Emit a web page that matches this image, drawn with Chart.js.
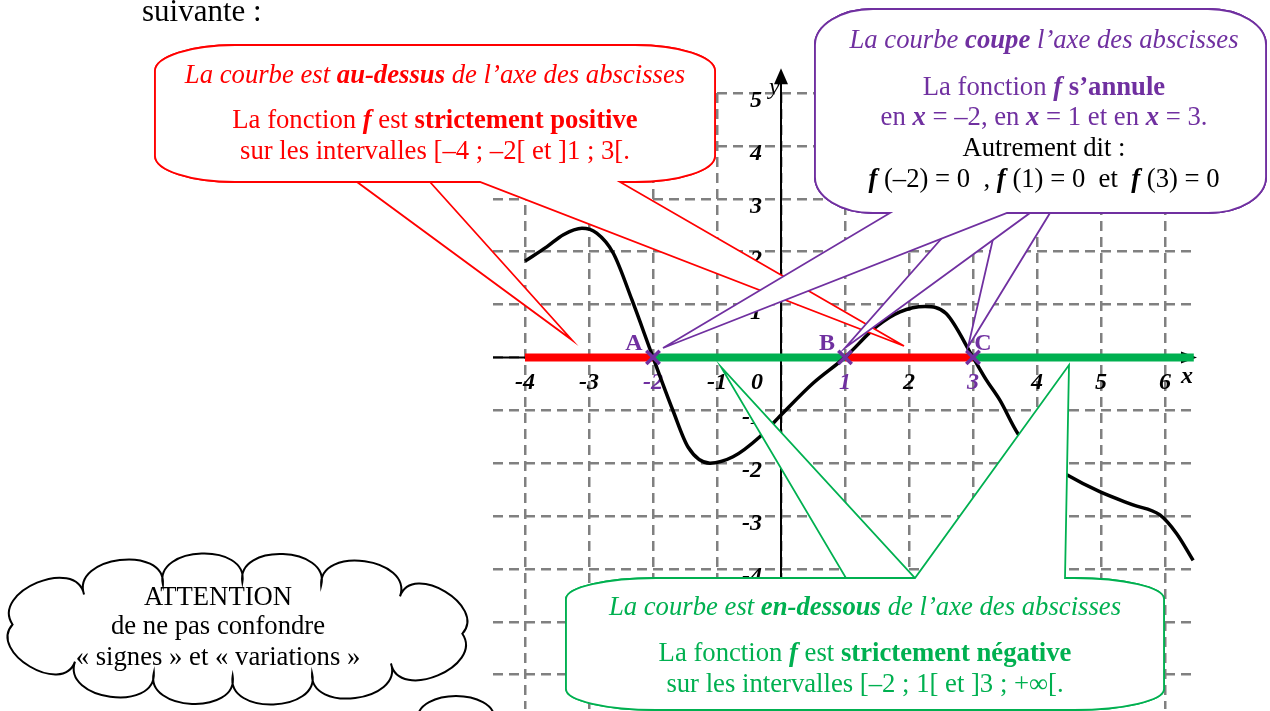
<!DOCTYPE html>
<html><head><meta charset="utf-8">
<script src="https://cdn.jsdelivr.net/npm/chart.js@4.4.0/dist/chart.umd.min.js"></script>
<style>html,body{margin:0;padding:0;background:#fff;overflow:hidden}canvas{display:block}</style>
</head><body>
<canvas id="c" width="1270" height="711"></canvas>
<script>
// ---------- data ----------
const curveX = [-4, -3.66, -3.4, -3.11, -2.88, -2.62, -2.33, -2, -1.69, -1.45, -1.11, -0.75, -0.33, 0, 0.5, 1, 1.49, 1.86, 2.25, 2.58, 3, 3.21, 3.42, 3.7, 4.0, 4.48, 4.98, 5.5, 5.92, 6.18, 6.44];
const curveY = [1.82, 2.09, 2.32, 2.44, 2.35, 1.97, 1.09, 0, -1.0, -1.7, -2.0, -1.88, -1.5, -1.09, -0.49, 0, 0.58, 0.86, 0.96, 0.83, 0, -0.43, -0.81, -1.44, -1.85, -2.23, -2.54, -2.79, -2.98, -3.33, -3.84];
const roots = [-2, 1, 3];
const rootNames = ['A', 'B', 'C'];
const positiveIntervals = [[-4, -2], [1, 3]];
const negativeIntervals = [[-2, 1], [3, 6.45]];
const xTicks = [-4, -3, -2, -1, 0, 1, 2, 3, 4, 5, 6];
const xTickLabels = ['-4', '-3', '-2', '-1', '0', '1', '2', '3', '4', '5', '6'];
const yTicks = [5, 4, 3, 2, 1, -1, -2, -3, -4, -5, -6];
const yTickLabels = ['5', '4', '3', '2', '1', '-1', '-2', '-3', '-4', '-5', '-6'];
const yGrid = [-6, -5, -4, -3, -2, -1, 0, 1, 2, 3, 4, 5];

// ---------- styles ----------
const RED = '#FF0000', GREEN = '#00B050', PURPLE = '#7030A0', GRID = '#808080';
const FF = "'Liberation Serif','Times New Roman',serif";
const F = {n: '26.7px ' + FF, i: 'italic 26.7px ' + FF, b: 'bold 26.7px ' + FF, bi: 'italic bold 26.7px ' + FF};

const redText = [
  [[['La courbe est ', 'i'], ['au-dessus', 'bi'], [' de l\u2019axe des abscisses', 'i']], 83],
  [[['La fonction ', 'n'], ['f', 'bi'], [' est ', 'n'], ['strictement positive', 'b']], 128],
  [[['sur les intervalles [\u20134 ; \u20132[ et ]1 ; 3[.', 'n']], 159]
];
const purpleText = [
  [[['La courbe ', 'i'], ['coupe', 'bi'], [' l\u2019axe des abscisses', 'i']], 48, PURPLE],
  [[['La fonction ', 'n'], ['f', 'bi'], [' s\u2019annule', 'b']], 95, PURPLE],
  [[['en ', 'n'], ['x', 'bi'], [' = \u20132, en ', 'n'], ['x', 'bi'], [' = 1 et en ', 'n'], ['x', 'bi'], [' = 3.', 'n']], 125, PURPLE],
  [[['Autrement dit :', 'n']], 156, '#000'],
  [[['f', 'bi'], [' (\u20132) = 0  , ', 'n'], ['f', 'bi'], [' (1) = 0  et  ', 'n'], ['f', 'bi'], [' (3) = 0', 'n']], 187, '#000']
];
const greenText = [
  [[['La courbe est ', 'i'], ['en-dessous', 'bi'], [' de l\u2019axe des abscisses', 'i']], 615],
  [[['La fonction ', 'n'], ['f', 'bi'], [' est ', 'n'], ['strictement n\u00e9gative', 'b']], 661],
  [[['sur les intervalles [\u20132 ; 1[ et ]3 ; +\u221e[.', 'n']], 692]
];
const cloudText = [['ATTENTION', 605], ['de ne pas confondre', 634], ['\u00ab signes \u00bb et \u00ab variations \u00bb', 665]];

function rich(ctx, segs, cx, base, color) {
  let w = 0;
  segs.forEach(s => { ctx.font = F[s[1]]; w += ctx.measureText(s[0]).width; });
  let xx = cx - w / 2;
  ctx.fillStyle = color; ctx.textAlign = 'left'; ctx.textBaseline = 'alphabetic';
  segs.forEach(s => { ctx.font = F[s[1]]; ctx.fillText(s[0], xx, base); xx += ctx.measureText(s[0]).width; });
}

function callout(ctx, bx, topW, botW, color) {
  const k = 0.5523, {x, y, w, h, rx, ry} = bx;
  ctx.beginPath();
  ctx.moveTo(x + rx, y);
  topW.forEach(t => { ctx.lineTo(t[0], y); ctx.lineTo(t[2], t[3]); ctx.lineTo(t[1], y); });
  ctx.lineTo(x + w - rx, y);
  ctx.bezierCurveTo(x + w - rx + k * rx, y, x + w, y + ry - k * ry, x + w, y + ry);
  ctx.lineTo(x + w, y + h - ry);
  ctx.bezierCurveTo(x + w, y + h - ry + k * ry, x + w - rx + k * rx, y + h, x + w - rx, y + h);
  botW.forEach(t => { ctx.lineTo(t[1], y + h); ctx.lineTo(t[2], t[3]); ctx.lineTo(t[0], y + h); });
  ctx.lineTo(x + rx, y + h);
  ctx.bezierCurveTo(x + rx - k * rx, y + h, x, y + h - ry + k * ry, x, y + h - ry);
  ctx.lineTo(x, y + ry);
  ctx.bezierCurveTo(x, y + ry - k * ry, x + rx - k * rx, y, x + rx, y);
  ctx.closePath();
  ctx.fillStyle = '#fff'; ctx.fill();
  ctx.strokeStyle = color; ctx.lineWidth = 1.8; ctx.lineJoin = 'miter'; ctx.miterLimit = 12; ctx.stroke();
}

function cloud(ctx, cx, cy, a, b, n, phase) {
  const N = 1440, pts = [], L = [0];
  for (let i = 0; i <= N; i++) {
    const t = phase + 2 * Math.PI * i / N;
    pts.push([cx + a * Math.cos(t), cy + b * Math.sin(t)]);
    if (i > 0) L.push(L[i - 1] + Math.hypot(pts[i][0] - pts[i - 1][0], pts[i][1] - pts[i - 1][1]));
  }
  const total = L[N], P = []; let j = 0;
  for (let k = 0; k < n; k++) { const tg = total * k / n; while (L[j + 1] < tg) j++; P.push(pts[j]); }
  ctx.beginPath(); ctx.moveTo(P[0][0], P[0][1]);
  for (let k = 0; k < n; k++) {
    const p = P[k], q = P[(k + 1) % n];
    const dx = q[0] - p[0], dy = q[1] - p[1], len = Math.hypot(dx, dy);
    const nx = dy / len, ny = -dx / len, hh = 0.5 * len;
    ctx.bezierCurveTo(p[0] + nx * hh - dx * 0.1, p[1] + ny * hh - dy * 0.1, q[0] + nx * hh + dx * 0.1, q[1] + ny * hh + dy * 0.1, q[0], q[1]);
  }
  ctx.closePath();
  ctx.fillStyle = '#fff'; ctx.fill();
  ctx.strokeStyle = '#000'; ctx.lineWidth = 2; ctx.stroke();
}

const deco = {
  id: 'deco',
  beforeDatasetsDraw(chart) {
    const {ctx, scales: {x, y}} = chart;
    const px0 = x.getPixelForValue(0), py0 = y.getPixelForValue(0);
    const xEnd = x.getPixelForValue(6.5), yTop = y.getPixelForValue(5.47);
    ctx.save();
    ctx.strokeStyle = '#000'; ctx.fillStyle = '#000'; ctx.lineWidth = 2;
    ctx.beginPath(); ctx.moveTo(x.left, py0); ctx.lineTo(xEnd - 4, py0); ctx.stroke();
    ctx.beginPath(); ctx.moveTo(px0, chart.height); ctx.lineTo(px0, yTop + 4); ctx.stroke();
    ctx.beginPath(); ctx.moveTo(xEnd, py0); ctx.lineTo(xEnd - 16, py0 - 6); ctx.lineTo(xEnd - 16, py0 + 6); ctx.closePath(); ctx.fill();
    ctx.beginPath(); ctx.moveTo(px0, yTop); ctx.lineTo(px0 - 7, yTop + 16); ctx.lineTo(px0 + 7, yTop + 16); ctx.closePath(); ctx.fill();
    // tick labels
    ctx.font = 'italic bold 24px ' + FF; ctx.textBaseline = 'alphabetic';
    ctx.textAlign = 'center';
    xTicks.forEach((v, i) => {
      const px = v === 0 ? px0 - 24 : x.getPixelForValue(v);
      ctx.fillStyle = roots.includes(v) ? PURPLE : '#000';
      ctx.fillText(xTickLabels[i], px, py0 + 32);
    });
    ctx.textAlign = 'right'; ctx.fillStyle = '#000';
    yTicks.forEach((v, i) => ctx.fillText(yTickLabels[i], px0 - 19, y.getPixelForValue(v) + 14));
    ctx.textAlign = 'left';
    ctx.fillText('x', xEnd - 16, py0 + 26);
    ctx.font = 'italic 24px ' + FF;
    ctx.fillText('y', px0 - 12, yTop + 26);
    ctx.restore();
  },
  afterDatasetsDraw(chart) {
    const {ctx, scales: {x, y}} = chart;
    const py0 = y.getPixelForValue(0);
    ctx.save();
    // red callout
    const redBox = {x: 155, y: 45, w: 560, h: 137, rx: 80, ry: 26};
    callout(ctx, redBox, [], [[357, 430, 572, 340]], RED);
    callout(ctx, redBox, [], [[480, 620, 904, 346]], RED);
    // purple callout
    const pBox = {x: 815, y: 9, w: 451, h: 204, rx: 58, ry: 36};
    callout(ctx, pBox, [], [[999, 1050, 968, 347]], PURPLE);
    callout(ctx, pBox, [], [[964, 1030, 845, 348]], PURPLE);
    callout(ctx, pBox, [], [[890, 1007, 663, 348]], PURPLE);
    // green callout
    const gBox = {x: 566, y: 578, w: 598, h: 132, rx: 90, ry: 21};
    callout(ctx, gBox, [[846, 915, 721, 367]], [], GREEN);
    callout(ctx, gBox, [[915, 1065, 1069, 365]], [], GREEN);
    // texts
    redText.forEach(l => rich(ctx, l[0], 435, l[1], RED));
    purpleText.forEach(l => rich(ctx, l[0], 1044, l[1], l[2]));
    greenText.forEach(l => rich(ctx, l[0], 865, l[1], GREEN));
    // cloud
    cloud(ctx, 237.5, 629, 226, 47, 12, 0.1);
    cloudText.forEach(l => rich(ctx, [[l[0], 'n']], 218, l[1], '#000'));
    ctx.beginPath(); ctx.ellipse(456, 717, 38, 21, 0, 0, 2 * Math.PI);
    ctx.fillStyle = '#fff'; ctx.fill(); ctx.strokeStyle = '#000'; ctx.lineWidth = 2; ctx.stroke();
    // root names
    ctx.font = 'bold 24px ' + FF; ctx.fillStyle = PURPLE; ctx.textAlign = 'center';
    const dxs = [-19, -18, 10];
    roots.forEach((r, i) => ctx.fillText(rootNames[i], x.getPixelForValue(r) + dxs[i], py0 - 7));
    // heading text
    ctx.font = '31px ' + FF; ctx.fillStyle = '#000'; ctx.textAlign = 'left';
    ctx.fillText('suivante :', 142, 21);
    ctx.restore();
  }
};

const barSets = [];
positiveIntervals.forEach(iv => barSets.push({data: iv.map(v => ({x: v, y: 0})), borderColor: RED, borderWidth: 8, pointRadius: 0, borderCapStyle: 'butt', order: 2}));
negativeIntervals.forEach(iv => barSets.push({data: iv.map(v => ({x: v, y: 0})), borderColor: GREEN, borderWidth: 8, pointRadius: 0, borderCapStyle: 'butt', order: 2}));

new Chart(document.getElementById('c'), {
  type: 'line',
  data: {
    datasets: [
      {label: 'racines', data: roots.map(r => ({x: r, y: 0})), showLine: false, pointStyle: 'crossRot', pointRadius: 9.5, pointBorderWidth: 3.5, borderColor: PURPLE, backgroundColor: PURPLE, order: 0},
      {label: 'f', data: curveX.map((v, i) => ({x: v, y: curveY[i]})), borderColor: '#000', borderWidth: 3.5, pointRadius: 0, cubicInterpolationMode: 'monotone', fill: false, order: 1, clip: false},
      ...barSets
    ]
  },
  options: {
    responsive: false, animation: false, events: [],
    layout: {autoPadding: false, padding: {left: 493, right: 73, top: 93, bottom: 2}},
    plugins: {legend: {display: false}, tooltip: {enabled: false}},
    scales: {
      x: {type: 'linear', min: -4.5, max: 6.5,
          afterBuildTicks: s => { s.ticks = xTicks.map(v => ({value: v})); },
          afterFit: s => { s.height = 0; },
          ticks: {display: false}, grid: {color: GRID, lineWidth: 2.5, drawTicks: false},
          border: {display: false, dash: [10, 6]}},
      y: {type: 'linear', min: -6.65, max: 5,
          afterBuildTicks: s => { s.ticks = yGrid.map(v => ({value: v})); },
          afterFit: s => { s.width = 0; },
          ticks: {display: false}, grid: {color: GRID, lineWidth: 2.5, drawTicks: false},
          border: {display: false, dash: [10, 6]}}
    }
  },
  plugins: [deco]
});
</script>
</body></html>
